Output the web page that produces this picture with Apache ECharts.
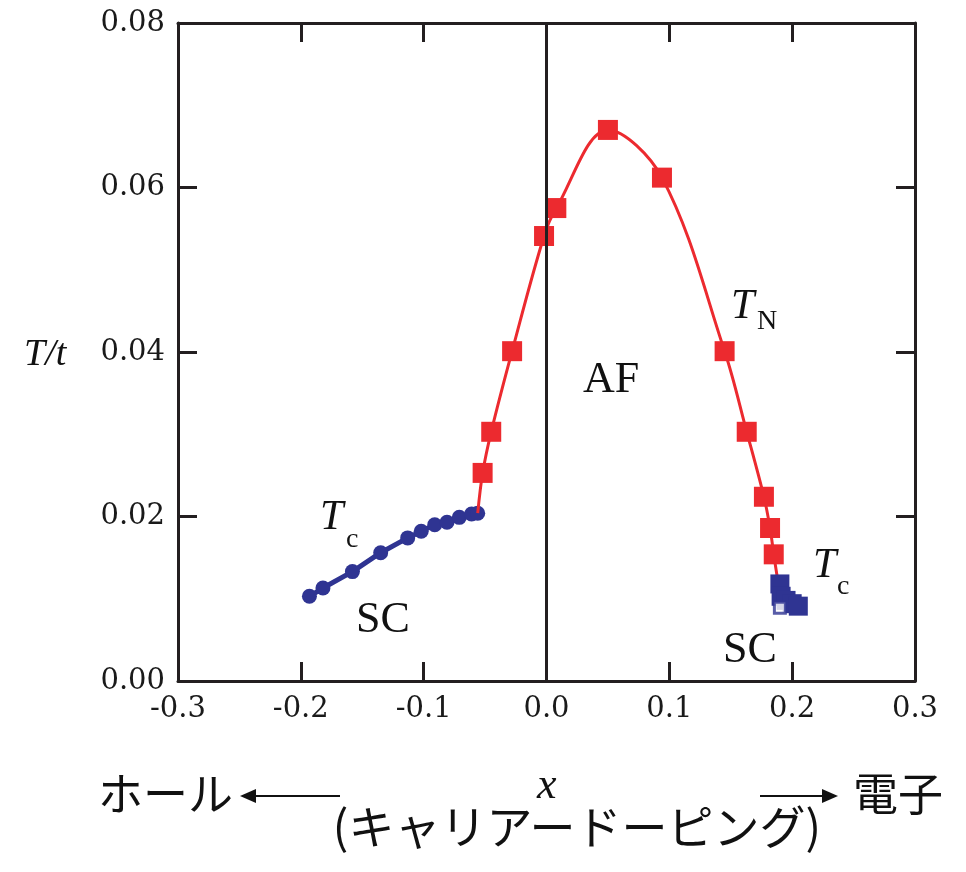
<!DOCTYPE html>
<html>
<head>
<meta charset="utf-8">
<script src="https://cdn.jsdelivr.net/npm/echarts@6/dist/echarts.min.js"></script>
<style>
html,body{margin:0;padding:0;background:#fff;}
#chart{width:966px;height:872px;}
</style>
</head>
<body>
<div id="chart"></div>
<script>
// Axis ticks
const xTicks = [-0.3, -0.2, -0.1, 0.0, 0.1, 0.2, 0.3];
const yTicks = [0.00, 0.02, 0.04, 0.06, 0.08];

// T_N (antiferromagnetic transition), red squares; first and last points are curve ends without markers
const tnX = [-0.056, -0.052, -0.045, -0.028, -0.002, 0.008, 0.050, 0.094, 0.145, 0.163, 0.177, 0.182, 0.185, 0.188];
const tnY = [0.0204, 0.0253, 0.0303, 0.0401, 0.0541, 0.0575, 0.0670, 0.0612, 0.0401, 0.0303, 0.0224, 0.0186, 0.0154, 0.0125];

// T_c on hole-doped side (blue circles)
const tcHoleX = [-0.193, -0.182, -0.158, -0.135, -0.113, -0.102, -0.091, -0.081, -0.071, -0.061, -0.056];
const tcHoleY = [0.0103, 0.0113, 0.0133, 0.0156, 0.0174, 0.0182, 0.0190, 0.0193, 0.0199, 0.0203, 0.0204];

// T_c on electron-doped side (blue squares)
const tcElecX = [0.190, 0.191, 0.195, 0.200, 0.205];
const tcElecY = [0.0118, 0.0103, 0.0098, 0.0094, 0.0091];
const tcElecOpenX = [0.190];
const tcElecOpenY = [0.0089];

const RED = '#ec2a2f';
const BLUE = '#2f3492';
const INK = '#231f20';

const zip = (xs, ys) => xs.map((x, i) => [x, ys[i]]);
const tnData = zip(tnX, tnY).map((p, i) => (i === 0 || i === tnX.length - 1) ? {value: p, symbol: 'none'} : p);

const chart = echarts.init(document.getElementById('chart'), null, {renderer: 'canvas'});

const axisLineStyle = {onZero: false, lineStyle: {color: INK, width: 3}};
const tickStyle = {inside: true, length: 19, lineStyle: {color: INK, width: 3}};
const numFont = {fontFamily: 'DejaVu Serif', fontSize: 29, color: '#1a1a1a'};

const serif = 'Liberation Serif';
const cjk = '"Noto Sans CJK JP"';

function txt(x, y, text, size, opts) {
  return Object.assign({
    type: 'text', x: x, y: y,
    style: Object.assign({text: text, font: size + 'px ' + serif, fill: '#111', textAlign: 'left', textVerticalAlign: 'top'}, opts || {})
  });
}

chart.setOption({
  animation: false,
  backgroundColor: '#fff',
  grid: {left: 178, right: 51, top: 23, bottom: 191},
  xAxis: [{
    type: 'value', min: xTicks[0], max: xTicks[xTicks.length - 1], interval: 0.1,
    axisLine: axisLineStyle, axisTick: tickStyle, splitLine: {show: false},
    axisLabel: Object.assign({margin: 14, formatter: v => v.toFixed(1)}, numFont)
  }, {
    type: 'value', position: 'top', min: xTicks[0], max: xTicks[xTicks.length - 1], interval: 0.1,
    axisLine: axisLineStyle, axisTick: tickStyle, splitLine: {show: false}, axisLabel: {show: false}
  }],
  yAxis: [{
    type: 'value', min: yTicks[0], max: yTicks[yTicks.length - 1], interval: 0.02,
    axisLine: axisLineStyle, axisTick: tickStyle, splitLine: {show: false},
    axisLabel: Object.assign({margin: 13, formatter: v => v.toFixed(2)}, numFont)
  }, {
    type: 'value', position: 'right', min: yTicks[0], max: yTicks[yTicks.length - 1], interval: 0.02,
    axisLine: axisLineStyle, axisTick: tickStyle, splitLine: {show: false}, axisLabel: {show: false}
  }],
  series: [
    {
      type: 'line', data: [], silent: true,
      markLine: {silent: true, symbol: 'none', label: {show: false},
        lineStyle: {color: INK, width: 3, type: 'solid'}, data: [{xAxis: 0}]}
    },
    {
      type: 'line', data: zip(tcHoleX, tcHoleY), symbol: 'circle', symbolSize: 15,
      itemStyle: {color: BLUE}, lineStyle: {color: BLUE, width: 5}, z: 3
    },
    {
      type: 'line', data: tnData, smooth: 0.35, symbol: 'rect', symbolSize: 20,
      itemStyle: {color: RED}, lineStyle: {color: RED, width: 3}, z: 4
    },
    {
      type: 'line', data: zip(tcElecX, tcElecY), symbol: 'rect', symbolSize: 19,
      itemStyle: {color: BLUE}, lineStyle: {color: BLUE, width: 6}, z: 5
    },
    {
      type: 'scatter', data: zip(tcElecOpenX, tcElecOpenY), symbol: 'rect', symbolSize: 11,
      itemStyle: {color: '#fff', borderColor: BLUE, borderWidth: 3}, z: 6
    }
  ],
  graphic: [
    txt(24, 336, 'T/t', 38, {font: 'italic 38px ' + serif}),
    txt(583, 358, 'AF', 44),
    txt(356, 598, 'SC', 44),
    txt(723, 628, 'SC', 44),
    txt(731, 286, 'T', 42, {font: 'italic 42px ' + serif}),
    txt(757, 308, 'N', 28),
    txt(320, 497, 'T', 42, {font: 'italic 42px ' + serif}),
    txt(346, 526, 'c', 28),
    txt(813, 545, 'T', 42, {font: 'italic 42px ' + serif}),
    txt(837, 573, 'c', 28),
    txt(537, 764, 'x', 44, {font: 'italic 44px ' + serif}),
    txt(98, 771, 'ホール', 45, {font: '45px ' + cjk}),
    txt(853, 771, '電子', 45, {font: '45px ' + cjk}),
    txt(577, 804, '(キャリアードーピング)', 46, {font: '46px ' + cjk, textAlign: 'center'}),
    {type: 'line', shape: {x1: 252, y1: 796, x2: 340, y2: 796}, style: {stroke: '#111', lineWidth: 2}},
    {type: 'polygon', shape: {points: [[240, 796], [256, 789], [256, 803]]}, style: {fill: '#111'}},
    {type: 'line', shape: {x1: 760, y1: 796, x2: 826, y2: 796}, style: {stroke: '#111', lineWidth: 2}},
    {type: 'polygon', shape: {points: [[838, 796], [822, 789], [822, 803]]}, style: {fill: '#111'}}
  ]
});
</script>
</body>
</html>
